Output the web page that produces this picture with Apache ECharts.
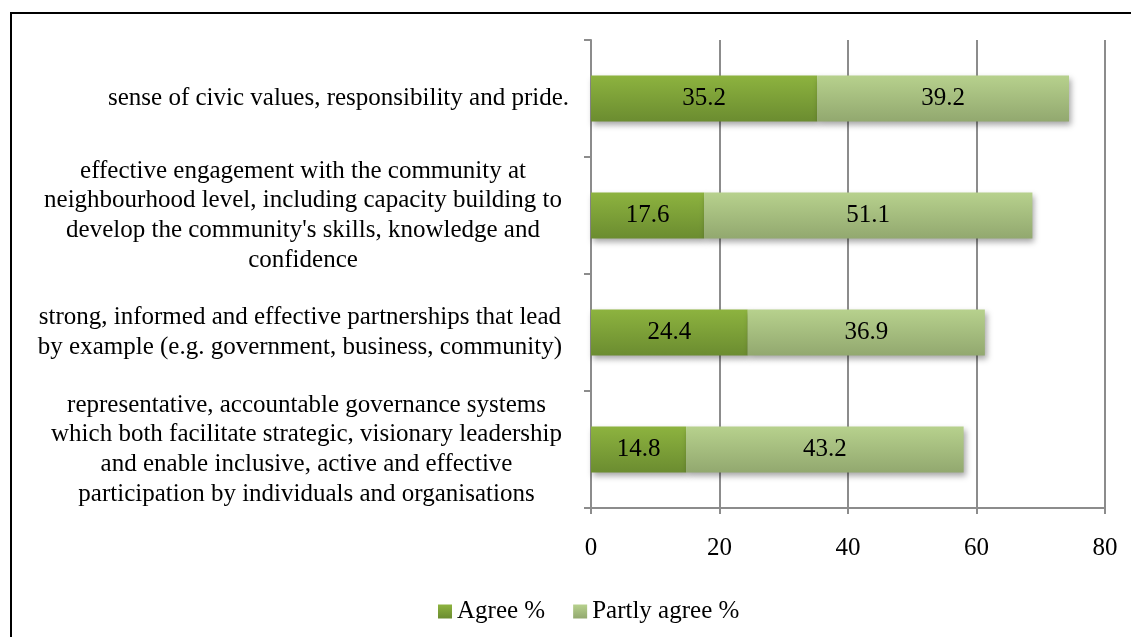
<!DOCTYPE html>
<html>
<head>
<meta charset="utf-8">
<style>
  html, body { margin: 0; padding: 0; background: #ffffff; }
  #chart { width: 1131px; height: 637px; }
</style>
<script src="https://cdn.jsdelivr.net/npm/echarts@6/dist/echarts.min.js"></script>
</head>
<body>
<div id="chart"></div>
<script>
// Categories, listed top to bottom; "\n" marks a line break in the label.
const categories = [
  "sense of civic values, responsibility and pride.",
  "effective engagement with the community at\nneighbourhood level, including capacity building to\ndevelop the community's skills, knowledge and\nconfidence",
  "strong, informed and effective partnerships that lead\nby example (e.g. government, business, community)",
  "representative, accountable governance systems\nwhich both facilitate strategic, visionary leadership\nand enable inclusive, active and effective\nparticipation by individuals and organisations"
];
const agree = [35.2, 17.6, 24.4, 14.8];
const partlyAgree = [39.2, 51.1, 36.9, 43.2];
const seriesNames = ["Agree %", "Partly agree %"];
const xTicks = [0, 20, 40, 60, 80];

const FONT = "'Liberation Serif', 'Times New Roman', serif";
const GRID_GREY = '#8c8c8c';

function vGrad(top, bottom) {
  return new echarts.graphic.LinearGradient(0, 0, 0, 1, [
    { offset: 0, color: top },
    { offset: 1, color: bottom }
  ]);
}

const barShadow = {
  shadowColor: 'rgba(0,0,0,0.35)',
  shadowBlur: 6,
  shadowOffsetX: 2,
  shadowOffsetY: 3
};

const valueLabel = {
  show: true,
  position: 'inside',
  color: '#000',
  fontFamily: FONT,
  fontSize: 25,
  formatter: p => p.value.toFixed(1)
};

// Wrapped labels: each line centred within the block; multi-line blocks sit
// slightly further from the axis than single-line ones.
function categoryLabel(v) {
  const lines = v.split('\n');
  if (lines.length === 1) return '{c|' + v + '}';
  return lines.map(l => '{c|' + l + '}{gap|}').join('\n');
}

const chart = echarts.init(document.getElementById('chart'), null, { renderer: 'canvas' });

chart.setOption({
  animation: false,
  backgroundColor: '#ffffff',
  textStyle: { fontFamily: FONT },
  graphic: [{
    type: 'rect',
    shape: { x: 11, y: 13, width: 1400, height: 900 },
    style: { fill: 'none', stroke: '#000', lineWidth: 2 },
    silent: true
  }],
  grid: { left: 591, right: 26, top: 40, bottom: 129 },
  legend: {
    data: seriesNames,
    left: 433,
    top: 594,
    icon: 'rect',
    itemWidth: 14,
    itemHeight: 14,
    itemGap: 28,
    textStyle: { fontFamily: FONT, fontSize: 25, color: '#000' }
  },
  xAxis: {
    type: 'value',
    min: xTicks[0],
    max: xTicks[xTicks.length - 1],
    interval: xTicks[1] - xTicks[0],
    axisLine: { show: true, lineStyle: { color: GRID_GREY, width: 2 } },
    axisTick: { show: true, length: 6, lineStyle: { color: GRID_GREY, width: 2 } },
    splitLine: { show: true, lineStyle: { color: GRID_GREY, width: 2 } },
    axisLabel: { color: '#000', fontFamily: FONT, fontSize: 25, margin: 28 }
  },
  yAxis: {
    type: 'category',
    inverse: true,
    data: categories,
    axisLine: { show: true, lineStyle: { color: GRID_GREY, width: 2 } },
    axisTick: { show: true, length: 7, lineStyle: { color: GRID_GREY, width: 2 } },
    axisLabel: {
      margin: 22,
      align: 'right',
      formatter: categoryLabel,
      rich: {
        c: { align: 'center', color: '#000', fontFamily: FONT, fontSize: 25, lineHeight: 29.7 },
        gap: { align: 'right', width: 7, fontSize: 25, lineHeight: 29.7 }
      }
    }
  },
  series: [
    {
      name: seriesNames[0],
      type: 'bar',
      stack: 'total',
      barWidth: 46,
      data: agree,
      itemStyle: Object.assign({ color: vGrad('#8db33f', '#6b8c30') }, barShadow),
      label: valueLabel
    },
    {
      name: seriesNames[1],
      type: 'bar',
      stack: 'total',
      barWidth: 46,
      data: partlyAgree,
      itemStyle: Object.assign({ color: vGrad('#b7d18d', '#92a86f') }, barShadow),
      label: valueLabel
    }
  ]
});
</script>
</body>
</html>
